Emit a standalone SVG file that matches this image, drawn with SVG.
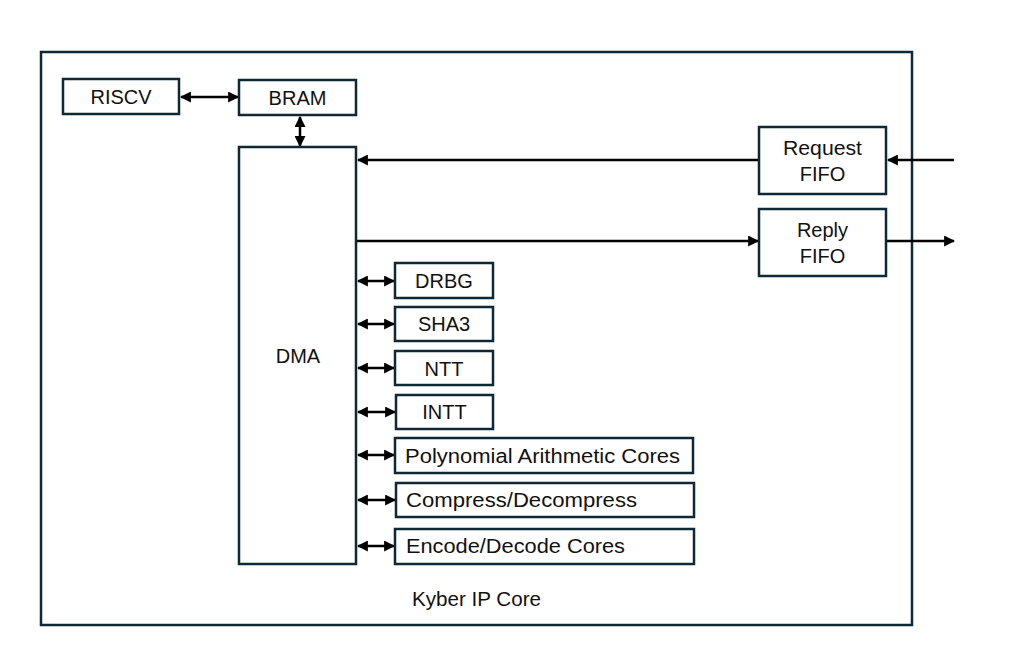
<svg xmlns="http://www.w3.org/2000/svg" width="1011" height="653" viewBox="0 0 1011 653">
<style>
.box{fill:#fff;stroke:#0e2836;stroke-width:2.5}
.lbl{font-family:"Liberation Sans",Arial,sans-serif;font-size:20px;fill:#111;text-anchor:middle}
.st{text-anchor:start}
.ln{stroke:#000;stroke-width:2.5;fill:none}
</style>
<defs>
<marker id="ah" viewBox="0 0 10 10" refX="9" refY="5" markerWidth="4.4" markerHeight="4.4" orient="auto-start-reverse" markerUnits="strokeWidth">
<path d="M0,0 L10,5 L0,10 z" fill="#000"/>
</marker>
</defs>
<rect width="1011" height="653" fill="#fff"/>
<g id="frame">
<rect x="41" y="52" width="871" height="573" fill="none" stroke="#0e2836" stroke-width="2.5"/>
<text class="lbl st" x="412" y="606" textLength="129" lengthAdjust="spacingAndGlyphs">Kyber IP Core</text>
</g>
<g id="connectors">
<line class="ln" x1="181" y1="97" x2="238" y2="97" marker-start="url(#ah)" marker-end="url(#ah)"/>
<line class="ln" x1="300" y1="117" x2="300" y2="146" marker-start="url(#ah)" marker-end="url(#ah)"/>
<line class="ln" x1="759" y1="160" x2="358" y2="160" marker-end="url(#ah)"/>
<line class="ln" x1="954" y1="160" x2="888" y2="160" marker-end="url(#ah)"/>
<line class="ln" x1="357" y1="241" x2="758" y2="241" marker-end="url(#ah)"/>
<line class="ln" x1="887" y1="241" x2="954" y2="241" marker-end="url(#ah)"/>
<line class="ln" x1="358" y1="281" x2="394" y2="281" marker-start="url(#ah)" marker-end="url(#ah)"/>
<line class="ln" x1="358" y1="324" x2="394" y2="324" marker-start="url(#ah)" marker-end="url(#ah)"/>
<line class="ln" x1="358" y1="368" x2="394" y2="368" marker-start="url(#ah)" marker-end="url(#ah)"/>
<line class="ln" x1="358" y1="412" x2="395" y2="412" marker-start="url(#ah)" marker-end="url(#ah)"/>
<line class="ln" x1="358" y1="455" x2="394" y2="455" marker-start="url(#ah)" marker-end="url(#ah)"/>
<line class="ln" x1="358" y1="500" x2="395" y2="500" marker-start="url(#ah)" marker-end="url(#ah)"/>
<line class="ln" x1="358" y1="546" x2="394" y2="546" marker-start="url(#ah)" marker-end="url(#ah)"/>
</g>
<g id="riscv"><rect class="box" x="63" y="79" width="116" height="35"/><text class="lbl" x="121" y="104">RISCV</text></g>
<g id="bram"><rect class="box" x="239" y="80" width="117" height="35"/><text class="lbl" x="297.5" y="105">BRAM</text></g>
<g id="dma"><rect class="box" x="239" y="147" width="117" height="417"/><text class="lbl" x="298" y="363">DMA</text></g>
<g id="request-fifo"><rect class="box" x="759" y="127" width="127" height="67"/><text class="lbl" x="822.5" y="155" textLength="79" lengthAdjust="spacingAndGlyphs">Request</text><text class="lbl" x="822.5" y="181">FIFO</text></g>
<g id="reply-fifo"><rect class="box" x="759" y="209" width="127" height="67"/><text class="lbl" x="822.5" y="237">Reply</text><text class="lbl" x="822.5" y="263">FIFO</text></g>
<g id="drbg"><rect class="box" x="395" y="263" width="98" height="35"/><text class="lbl" x="444" y="288">DRBG</text></g>
<g id="sha3"><rect class="box" x="395" y="307" width="98" height="34"/><text class="lbl" x="444" y="331">SHA3</text></g>
<g id="ntt"><rect class="box" x="395" y="351" width="98" height="34"/><text class="lbl" x="444" y="376">NTT</text></g>
<g id="intt"><rect class="box" x="396" y="395" width="97" height="34"/><text class="lbl" x="444.5" y="419">INTT</text></g>
<g id="poly"><rect class="box" x="395" y="438" width="298" height="35"/><text class="lbl st" x="405" y="463" textLength="275" lengthAdjust="spacingAndGlyphs">Polynomial Arithmetic Cores</text></g>
<g id="compress"><rect class="box" x="396" y="483" width="298" height="34"/><text class="lbl st" x="406" y="507" textLength="231" lengthAdjust="spacingAndGlyphs">Compress/Decompress</text></g>
<g id="encode"><rect class="box" x="395" y="529" width="299" height="35"/><text class="lbl st" x="406" y="553" textLength="219" lengthAdjust="spacingAndGlyphs">Encode/Decode Cores</text></g>
</svg>
